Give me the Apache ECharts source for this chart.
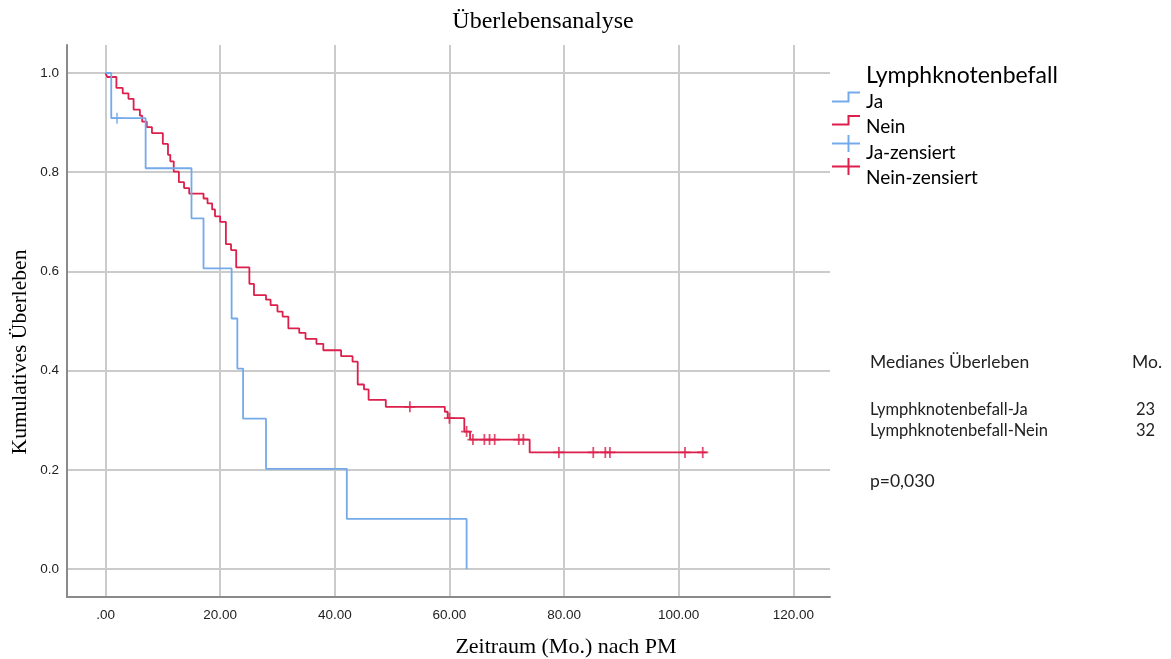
<!DOCTYPE html>
<html><head><meta charset="utf-8">
<script src="https://cdn.jsdelivr.net/npm/echarts@6/dist/echarts.min.js"></script>
<style>html,body{margin:0;padding:0;background:#fff}#c{width:1171px;height:659px}</style>
</head><body><div id="c"></div>
<script>
// Tick values
const xTicks = [0, 20, 40, 60, 80, 100, 120];
const yTicks = [0, 0.2, 0.4, 0.6, 0.8, 1.0];

// Lymphknotenbefall = Ja (Kaplan-Meier steps: time, survival after event)
const jaTimes = [0, 1.0, 7.0, 15.0, 17.1, 22.0, 23.0, 24.0, 28.0, 42.1, 63.0];
const jaSurv  = [1.0, 0.909, 0.808, 0.707, 0.606, 0.505, 0.404, 0.303, 0.202, 0.101, 0.0];
const jaCensTimes = [2.0];
const jaCensSurv  = [0.909];

// Lymphknotenbefall = Nein
const neinTimes = [0, 0.3, 1.9, 3.0, 4.0, 4.9, 6.0, 6.4, 7.2, 8.1, 10.0, 10.9, 11.3, 11.9, 12.8, 13.7, 14.6,
  17.1, 17.8, 18.6, 19.1, 20.0, 21.0, 21.9, 22.8, 25.1, 25.9, 28.0, 28.8, 30.0, 30.9, 31.9, 33.8, 34.9,
  36.8, 38.0, 41.1, 43.1, 44.0, 45.1, 45.9, 48.9, 59.2, 59.7, 62.6, 63.6, 74.0, 104.9];
const neinSurv = [1.0, 0.992, 0.970, 0.959, 0.948, 0.926, 0.914, 0.902, 0.891, 0.879, 0.857, 0.835, 0.822, 0.801, 0.780, 0.768, 0.757,
  0.747, 0.737, 0.725, 0.711, 0.700, 0.655, 0.643, 0.608, 0.575, 0.552, 0.543, 0.532, 0.519, 0.509, 0.485, 0.476, 0.464,
  0.454, 0.441, 0.429, 0.418, 0.372, 0.362, 0.341, 0.327, 0.317, 0.304, 0.277, 0.261, 0.235, 0.235];
const neinCensTimes = [53.1, 60.0, 63.0, 64.1, 66.1, 67.0, 67.9, 72.1, 72.9, 79.1, 85.1, 87.2, 88.0, 101.1, 104.2];
const neinCensSurv  = [0.327, 0.304, 0.277, 0.261, 0.261, 0.261, 0.261, 0.261, 0.261, 0.235, 0.235, 0.235, 0.235, 0.235, 0.235];

const BLUE = '#74aaea';
const RED = '#dc1f4b';
const zip = (a, b) => a.map((v, i) => [v, b[i]]);
const PLUS = 'path://M4.2,0 H5.8 V4.2 H10 V5.8 H5.8 V10 H4.2 V5.8 H0 V4.2 H4.2 Z';

const chart = echarts.init(document.getElementById('c'), null, {renderer: 'canvas'});
const serif = "'Liberation Serif', 'Times New Roman', serif";
const sans = "Lato, 'Noto Sans', sans-serif";
const narrow = "'Liberation Sans Narrow', 'Liberation Sans', Arial, sans-serif";

const graphics = [
  {type: 'text', x: 543, y: 22, style: {text: 'Überlebensanalyse', font: '24px ' + serif, fill: '#000', align: 'center', verticalAlign: 'middle'}},
  {type: 'text', x: 566, y: 647, style: {text: 'Zeitraum (Mo.) nach PM', font: '22px ' + serif, fill: '#000', align: 'center', verticalAlign: 'middle'}},
  {type: 'text', x: 20, y: 352, rotation: Math.PI / 2, style: {text: 'Kumulatives Überleben', font: '21.5px ' + serif, fill: '#000', align: 'center', verticalAlign: 'middle'}},
  // legend
  {type: 'text', x: 866, y: 76, style: {text: 'Lymphknotenbefall', font: '23px ' + sans, fill: '#000', verticalAlign: 'middle'}},
  {type: 'polyline', shape: {points: [[832, 101.5], [848.5, 101.5], [848.5, 92.5], [860, 92.5]]}, style: {stroke: BLUE, lineWidth: 2, fill: null}},
  {type: 'text', x: 866, y: 102, style: {text: 'Ja', font: '19px ' + sans, fill: '#000', verticalAlign: 'middle'}},
  {type: 'polyline', shape: {points: [[832, 124.5], [848.5, 124.5], [848.5, 116], [860, 116]]}, style: {stroke: RED, lineWidth: 2, fill: null}},
  {type: 'text', x: 866, y: 127, style: {text: 'Nein', font: '19px ' + sans, fill: '#000', verticalAlign: 'middle'}},
  {type: 'line', shape: {x1: 832, y1: 143.5, x2: 860, y2: 143.5}, style: {stroke: BLUE, lineWidth: 2}},
  {type: 'line', shape: {x1: 848.5, y1: 135, x2: 848.5, y2: 152}, style: {stroke: BLUE, lineWidth: 2}},
  {type: 'text', x: 866, y: 153, style: {text: 'Ja-zensiert', font: '19px ' + sans, fill: '#000', verticalAlign: 'middle'}},
  {type: 'line', shape: {x1: 832, y1: 166.5, x2: 860, y2: 166.5}, style: {stroke: RED, lineWidth: 2}},
  {type: 'line', shape: {x1: 848.5, y1: 158, x2: 848.5, y2: 175}, style: {stroke: RED, lineWidth: 2}},
  {type: 'text', x: 866, y: 178, style: {text: 'Nein-zensiert', font: '19px ' + sans, fill: '#000', verticalAlign: 'middle'}},
  // annotation
  {type: 'text', x: 870, y: 362, style: {text: 'Medianes Überleben', font: '17.5px ' + sans, fill: '#222', verticalAlign: 'middle'}},
  {type: 'text', x: 1132, y: 362, style: {text: 'Mo.', font: '17.5px ' + sans, fill: '#222', verticalAlign: 'middle'}},
  {type: 'text', x: 870, y: 410, style: {text: 'Lymphknotenbefall-Ja', font: '16.5px ' + sans, fill: '#222', verticalAlign: 'middle'}},
  {type: 'text', x: 1136, y: 410, style: {text: '23', font: '16.5px ' + sans, fill: '#222', verticalAlign: 'middle'}},
  {type: 'text', x: 870, y: 431, style: {text: 'Lymphknotenbefall-Nein', font: '16.5px ' + sans, fill: '#222', verticalAlign: 'middle'}},
  {type: 'text', x: 1136, y: 431, style: {text: '32', font: '16.5px ' + sans, fill: '#222', verticalAlign: 'middle'}},
  {type: 'text', x: 870, y: 481, style: {text: 'p=0,030', font: '17.5px ' + sans, fill: '#222', verticalAlign: 'middle'}}
];

chart.setOption({
  backgroundColor: '#fff',
  animation: false,
  grid: {left: 67, top: 45, width: 763, height: 552},
  xAxis: {
    type: 'value', min: -6.72, max: 126.4,
    axisLine: {show: true, onZero: false, lineStyle: {color: '#8a8a8a', width: 2}},
    axisTick: {show: false, customValues: xTicks},
    axisLabel: {customValues: xTicks, margin: 11, color: '#222', fontSize: 13.5, fontFamily: narrow,
      formatter: v => (v === 0 ? '.00' : v.toFixed(2))},
    splitLine: {show: true, lineStyle: {color: '#cbcbcb', width: 2}}
  },
  yAxis: {
    type: 'value', min: -0.0565, max: 1.0565,
    axisLine: {show: true, onZero: false, lineStyle: {color: '#8a8a8a', width: 2}},
    axisTick: {show: false, customValues: yTicks},
    axisLabel: {customValues: yTicks, margin: 8, color: '#222', fontSize: 13.5, fontFamily: narrow,
      formatter: v => v.toFixed(1)},
    splitLine: {show: true, lineStyle: {color: '#cbcbcb', width: 2}}
  },
  series: [
    {name: 'Nein', type: 'line', step: 'end', data: zip(neinTimes, neinSurv), showSymbol: false,
      lineStyle: {color: RED, width: 1.8}, itemStyle: {color: RED}, z: 3},
    {name: 'Ja', type: 'line', step: 'end', data: zip(jaTimes, jaSurv), showSymbol: false,
      lineStyle: {color: BLUE, width: 1.8}, itemStyle: {color: BLUE}, z: 4},
    {name: 'Nein-zensiert', type: 'scatter', data: zip(neinCensTimes, neinCensSurv), symbol: PLUS, symbolSize: 11,
      itemStyle: {color: RED}, z: 5},
    {name: 'Ja-zensiert', type: 'scatter', data: zip(jaCensTimes, jaCensSurv), symbol: PLUS, symbolSize: 11,
      itemStyle: {color: BLUE}, z: 5}
  ],
  graphic: graphics
});
</script>
</body></html>
